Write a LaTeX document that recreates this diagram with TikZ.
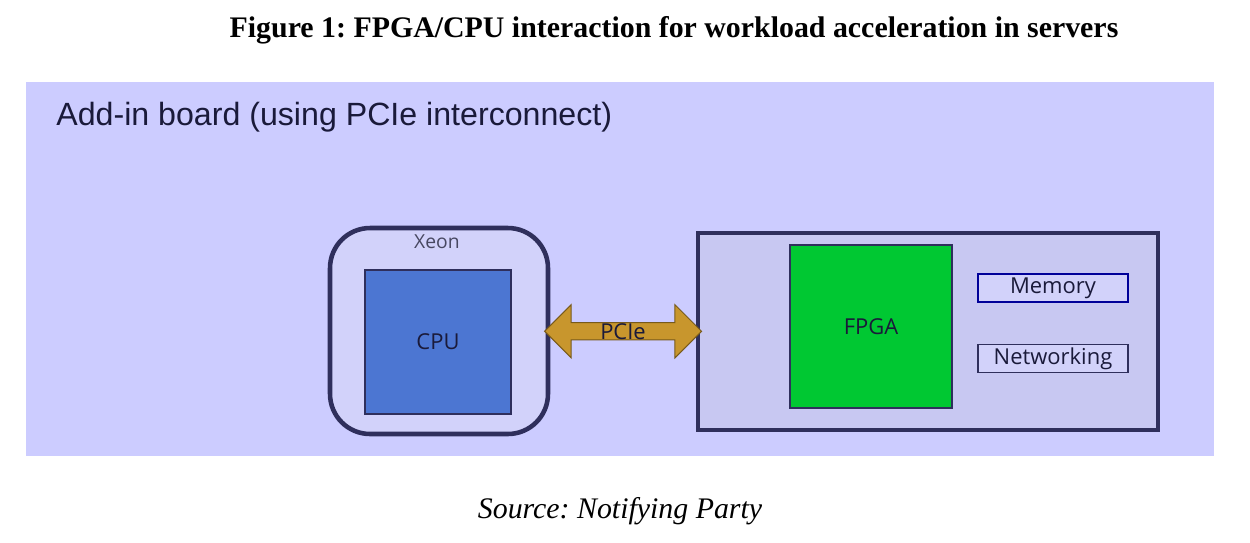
\documentclass[tikz,border=0pt]{standalone}
\usepackage{fontspec}
\setmainfont{Liberation Serif}
\newfontfamily\headfont{Liberation Sans}
\newfontfamily\labelfont{Open Sans}
\usetikzlibrary{shapes.arrows, positioning, calc}

\definecolor{panelbg}{HTML}{CCCCFF}
\definecolor{boxbg}{HTML}{D2D2FA}
\definecolor{boardbg}{HTML}{C8C8F2}
\definecolor{edge}{HTML}{2F2F5C}
\definecolor{cpublue}{HTML}{4C76D2}
\definecolor{fpgagreen}{HTML}{00C832}
\definecolor{linkgold}{HTML}{C8962D}
\definecolor{inktext}{HTML}{1A1A3A}

\frenchspacing
\begin{document}
\begin{tikzpicture}[x=0.02cm, y=-0.02cm,
    package/.style={rectangle, draw=edge, line width=2.6pt, rounded corners=0.8cm, fill=boxbg},
    board/.style={rectangle, draw=edge, line width=2.6pt, fill=boardbg},
    chip/.style={rectangle, draw=edge, line width=0.8pt, font=\labelfont\fontsize{12.5}{15}\selectfont, text=inktext},
    part/.style={rectangle, draw=edge, line width=0.8pt, fill=boxbg, minimum width=3cm, minimum height=0.56cm, inner sep=0pt, font=\labelfont\fontsize{12.5}{15}\selectfont, text=inktext},
    link/.style={double arrow, draw=linkgold!60!black, fill=linkgold, line width=0.6pt, inner sep=0pt, minimum width=0.38cm, double arrow head extend=0.36cm, font=\labelfont\fontsize{12.5}{15}\selectfont, text=inktext}
]
    \useasboundingbox (0,0) rectangle (1250,542);
    \fill [white] (0,0) rectangle (1250,542);

    % title and source line
    \node [font=\bfseries\fontsize{17}{20}\selectfont] (title) at (674,30) {Figure 1: FPGA/CPU interaction for workload acceleration in servers};
    \node [font=\itshape\fontsize{17}{20}\selectfont] (source) at (620,511) {Source: Notifying Party};

    % add-in board panel
    \fill [panelbg] (26,82) rectangle (1214,456);
    \node [anchor=base west, inner sep=0pt, font=\headfont\fontsize{18.3}{22}\selectfont, text=inktext] (heading) at (56,125) {Add-in board (using PCIe interconnect)};

    % host side
    \node [package, minimum width=4.36cm, minimum height=4.12cm] (xeon) at (439,331) {};
    \node [font=\labelfont\fontsize{11}{13}\selectfont, text=inktext!80] (xeonlabel) at (437,242) {Xeon};
    \node [chip, fill=cpublue, minimum width=2.92cm, minimum height=2.88cm] (cpu) at (438,342) {CPU};

    % accelerator side
    \node [board, minimum width=9.2cm, minimum height=3.94cm] (card) at (928,331.5) {};
    \node [chip, fill=fpgagreen, minimum width=3.24cm, minimum height=3.26cm] (fpga) at (871,326.5) {FPGA};
    \node [part, draw=blue!60!black] (memory) at (1053,288) {Memory};
    \node [part, below=0.82cm of memory] (net) {Networking};

    % interconnect
    \node [link, minimum height=3.14cm] (pcie) at ($(xeon.east)!0.5!(card.west)$) {PCIe};
\end{tikzpicture}
\end{document}
